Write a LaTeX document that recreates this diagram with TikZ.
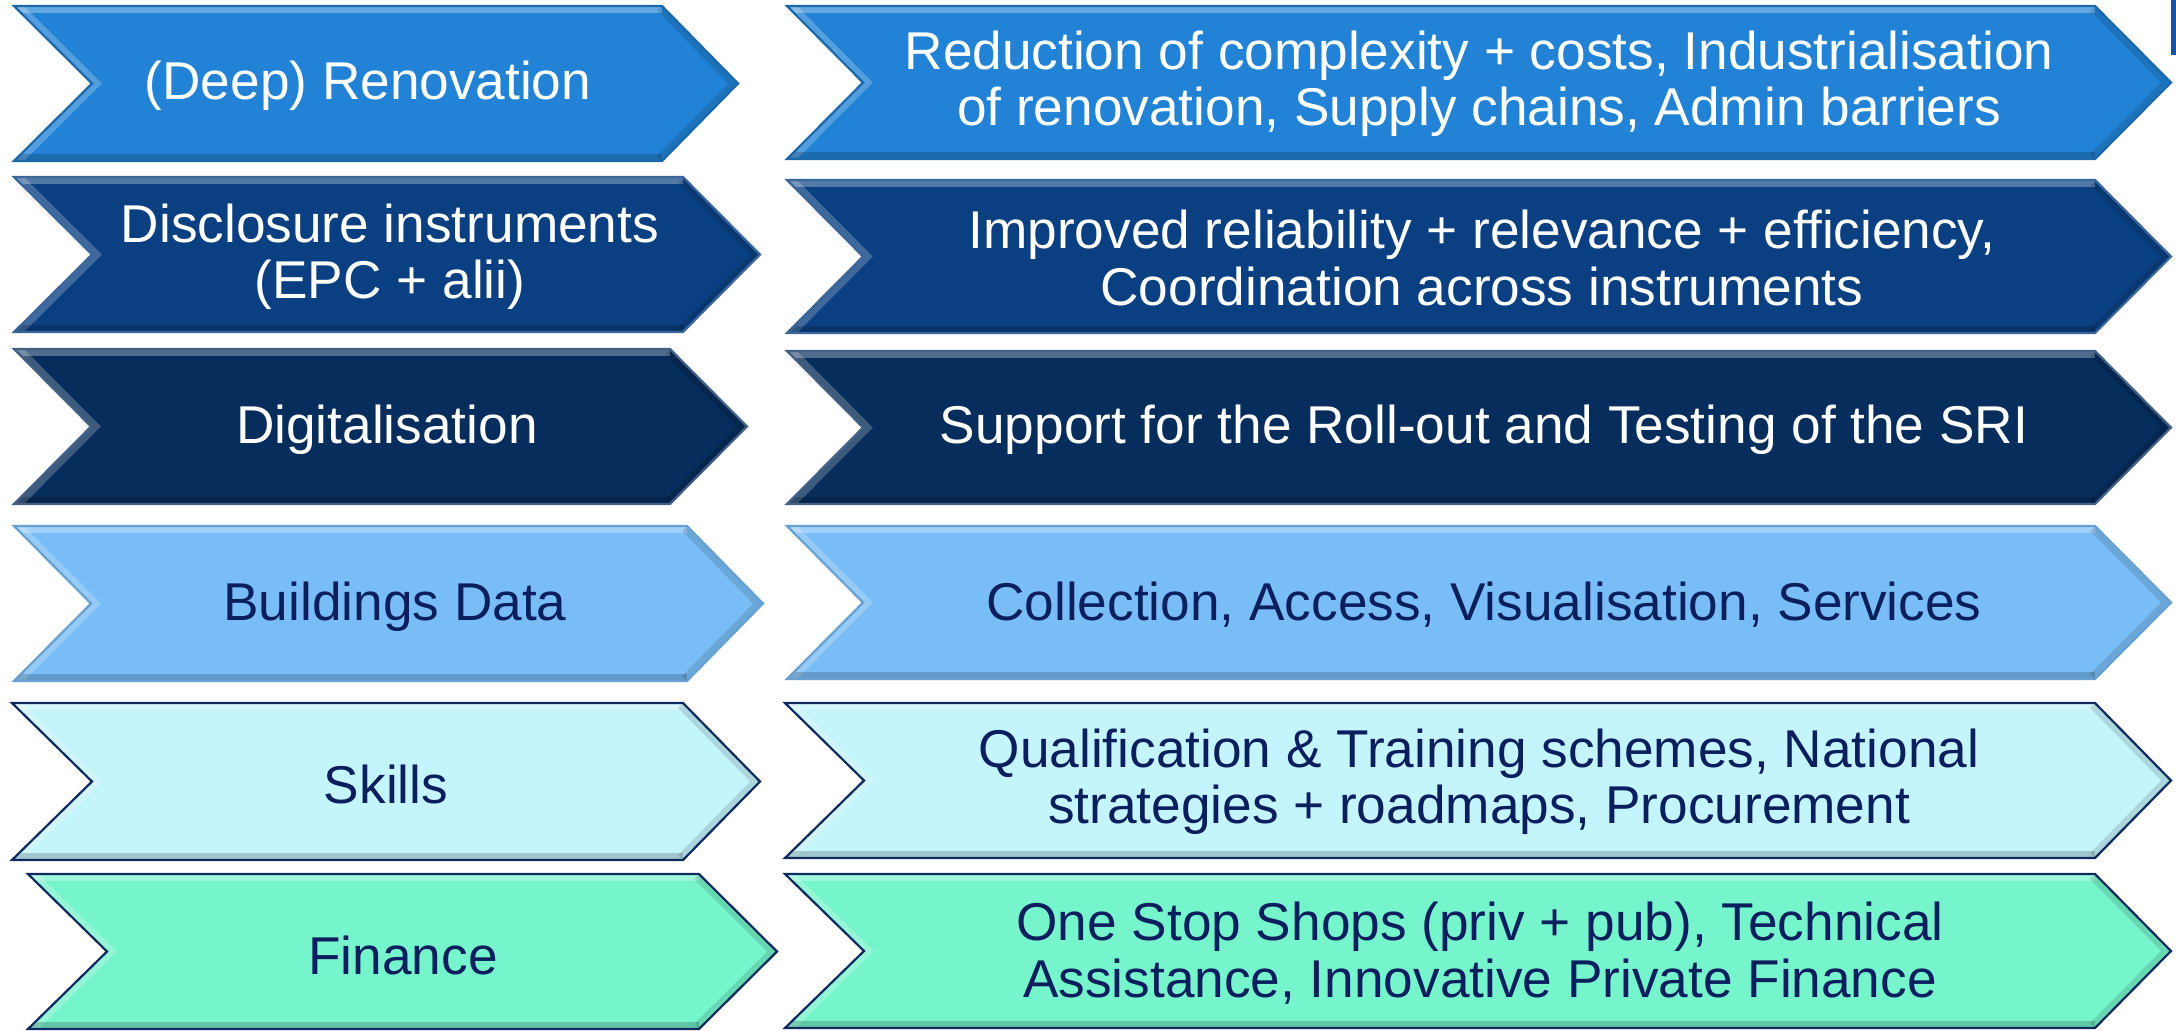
\documentclass[tikz,border=0pt]{standalone}
\usepackage{fontspec}
\setmainfont{Liberation Sans}
\definecolor{cA}{HTML}{2283D6}
\definecolor{cB}{HTML}{0A4081}
\definecolor{cC}{HTML}{062D5B}
\definecolor{cD}{HTML}{79BDF7}
\definecolor{cE}{HTML}{C4F4FC}
\definecolor{cF}{HTML}{76F4CB}
\definecolor{navytxt}{HTML}{0B1F5E}
\definecolor{edgedark}{HTML}{0E2A5E}
\definecolor{barblue}{HTML}{1457A8}
\newcommand\chev[8]{%
  \pgfmathsetmacro\ymid{(#5+#6)/2}%
  \fill[#7] (#1,#5) -- (#3,#5) -- (#4,\ymid) -- (#3,#6) -- (#1,#6) -- (#2,\ymid) -- cycle;
  \begin{scope}
    \clip (#1,#5) -- (#3,#5) -- (#4,\ymid) -- (#3,#6) -- (#1,#6) -- (#2,\ymid) -- cycle;
    \draw[white, opacity=0.30, line width=7pt] (#1,#5) -- (#3,#5);
    \draw[white, opacity=0.22, line width=7pt] (#1,#5) -- (#2,\ymid) -- (#1,#6);
    \draw[black, opacity=0.18, line width=7pt] (#1,#6) -- (#3,#6);
    \draw[black, opacity=0.12, line width=7pt] (#3,#5) -- (#4,\ymid) -- (#3,#6);
  \end{scope}
  \draw[#8, line width=1.1pt, line join=miter] (#1,#5) -- (#3,#5) -- (#4,\ymid) -- (#3,#6) -- (#1,#6) -- (#2,\ymid) -- cycle;
}
\tikzset{
  lbl/.style={align=center, font=\fontsize{26.6}{28.2}\selectfont, inner sep=0pt},
  wlbl/.style={lbl, text=white},
  nlbl/.style={lbl, text=navytxt}
}
\begin{document}
\begin{tikzpicture}[x=0.5pt, y=-0.5pt]
\useasboundingbox (0,0) rectangle (2176,1030);
% left column
\chev{14}{92}{662}{738}{6}{161}{cA}{cA!80!black}
\chev{14}{92}{683}{760}{177}{332}{cB}{cB!80!white}
\chev{14}{91}{670}{747}{349}{504}{cC}{cC!75!white}
\chev{14}{91}{687}{763}{526}{681}{cD}{cD!85!black}
\chev{12}{92}{683}{760}{703}{860}{cE}{edgedark}
\chev{28}{107}{699}{777}{874}{1029}{cF}{edgedark}
% right column
\chev{787}{863}{2095}{2171}{6}{159}{cA}{cA!80!black}
\chev{787}{863}{2095}{2171}{180}{333}{cB}{cB!80!white}
\chev{787}{863}{2095}{2171}{351}{504}{cC}{cC!75!white}
\chev{787}{863}{2095}{2171}{526}{679}{cD}{cD!85!black}
\chev{785}{864}{2095}{2171}{703}{858}{cE}{edgedark}
\chev{785}{864}{2095}{2171}{874}{1028}{cF}{edgedark}
% corner mark
\fill[barblue] (2171,0) rectangle (2176,55);
% left labels
\node[wlbl] (l1) at (368,86) {(Deep) Renovation};
\node[wlbl] (l2) at (390,257) {Disclosure instruments\\(EPC + alii)};
\node[wlbl] (l3) at (387,430) {Digitalisation};
\node[nlbl] (l4) at (395,607) {Buildings Data};
\node[nlbl] (l5) at (386,784) {Skills};
\node[nlbl] (l6) at (403,955) {Finance};
% right labels
\node[wlbl] (r1) at (1479,84) {Reduction of complexity + costs, Industrialisation\\of renovation, Supply chains, Admin barriers};
\node[wlbl] (r2) at (1482,258) {Improved reliability + relevance + efficiency,\\Coordination across instruments};
\node[wlbl] (r3) at (1484,430) {Support for the Roll-out and Testing of the SRI};
\node[nlbl] (r4) at (1484,605) {Collection, Access, Visualisation, Services};
\node[nlbl] (r5) at (1479,782) {Qualification \& Training schemes, National\\strategies + roadmaps, Procurement};
\node[nlbl] (r6) at (1480,953) {One Stop Shops (priv + pub), Technical\\Assistance, Innovative Private Finance};
\end{tikzpicture}
\end{document}
